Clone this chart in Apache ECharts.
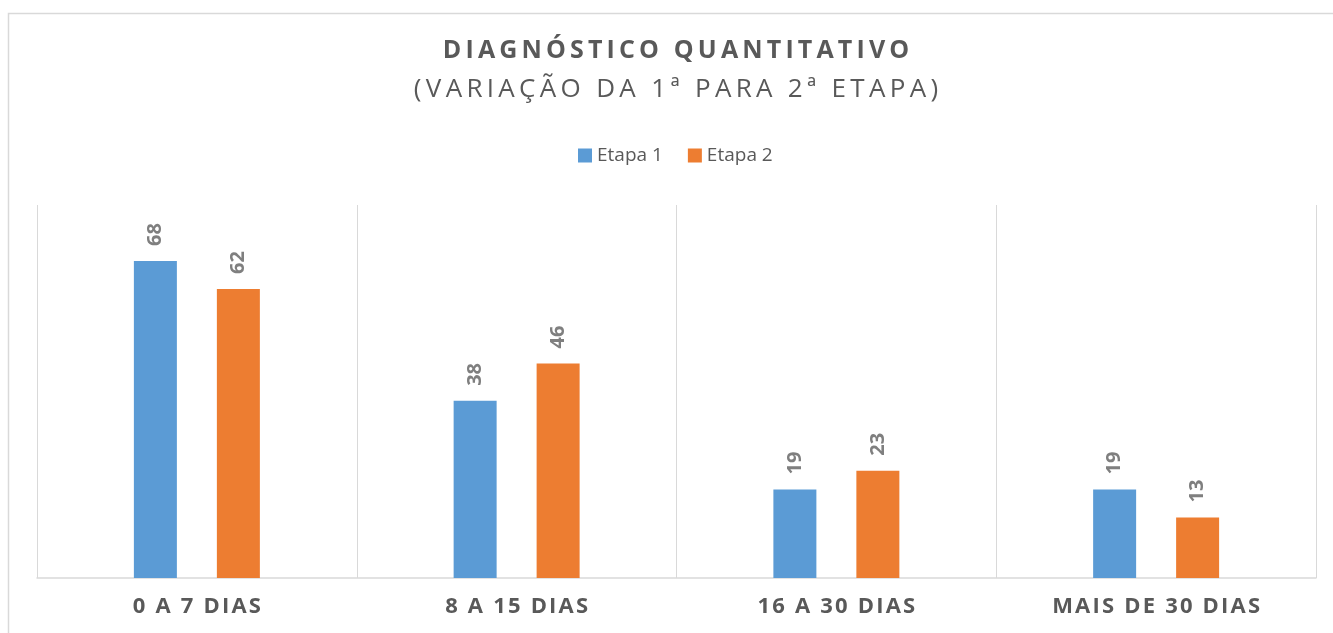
<!DOCTYPE html>
<html>
<head>
<meta charset="utf-8">
<script src="https://cdn.jsdelivr.net/npm/echarts@6/dist/echarts.min.js"></script>
<style>html,body{margin:0;padding:0;background:#fff}#c{width:1333px;height:633px}</style>
</head>
<body>
<div id="c"></div>
<script>
const titleText = "DIAGNÓSTICO QUANTITATIVO";
const subtitleText = "(VARIAÇÃO DA 1ª PARA 2ª ETAPA)";
const categories = ["0 A 7 DIAS", "8 A 15 DIAS", "16 A 30 DIAS", "MAIS DE 30 DIAS"];
const seriesNames = ["Etapa 1", "Etapa 2"];
const etapa1 = [68, 38, 19, 19];
const etapa2 = [62, 46, 23, 13];

// letter spacing imitation (ECharts has no letterSpacing): join characters with thin/hair spaces
const THIN = "\u2009", HAIR = "\u200A";
const spaced = (s, ch) => Array.from(s).join(ch);

const chart = echarts.init(document.getElementById('c'), null, {renderer: 'canvas'});
const font = "'Open Sans', 'Noto Sans', sans-serif";
const labelOpt = {
  show: true, position: 'top', rotate: 90, align: 'left', verticalAlign: 'middle',
  distance: 15, color: '#7f7f7f', fontWeight: 'bold', fontSize: 20, fontFamily: font
};
chart.setOption({
  animation: false,
  textStyle: {fontFamily: font},
  graphic: [{
    type: 'rect', shape: {x: 8.5, y: 13.5, width: 1340, height: 640},
    style: {fill: 'none', stroke: '#d9d9d9', lineWidth: 1.5}, silent: true, z: -1
  }],
  title: [
    {text: spaced(titleText, THIN), left: 676, textAlign: 'center', top: 38, padding: 0,
     textStyle: {fontSize: 25, fontWeight: 'bold', color: '#595959', fontFamily: font}},
    {text: spaced(subtitleText, THIN), left: 676, textAlign: 'center', top: 77, padding: 0,
     textStyle: {fontSize: 26, fontWeight: 'normal', color: '#595959', fontFamily: font}}
  ],
  legend: {
    data: seriesNames, left: 573, top: 141,
    itemWidth: 14, itemHeight: 14, itemGap: 25,
    icon: 'rect', textStyle: {fontSize: 19, color: '#595959', fontFamily: font}
  },
  grid: {left: 37, right: 17, top: 205, bottom: 55, containLabel: false},
  xAxis: {
    type: 'category', data: categories, boundaryGap: true,
    axisLine: {show: true, lineStyle: {color: '#d9d9d9', width: 1.5}},
    axisTick: {show: false},
    splitLine: {show: true, lineStyle: {color: '#d9d9d9', width: 1}},
    axisLabel: {margin: 18, fontSize: 22, fontWeight: 'bold', color: '#595959', fontFamily: font,
      formatter: v => spaced(v, HAIR)}
  },
  yAxis: {
    type: 'value', min: 0, max: 80, interval: 10, show: false,
    splitLine: {show: false}
  },
  series: [
    {name: seriesNames[0], type: 'bar', data: etapa1, barWidth: 43, barGap: '93%',
     itemStyle: {color: '#5b9bd5'}, label: labelOpt},
    {name: seriesNames[1], type: 'bar', data: etapa2, barWidth: 43,
     itemStyle: {color: '#ed7d31'}, label: labelOpt}
  ]
});
</script>
</body>
</html>
